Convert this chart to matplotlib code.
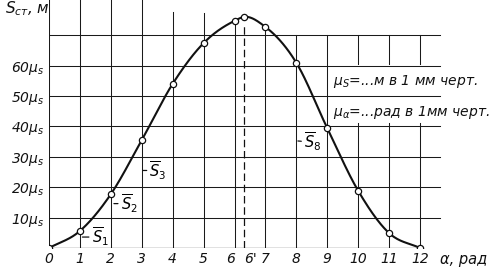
import numpy as np
import matplotlib
matplotlib.use("Agg")
import matplotlib.pyplot as plt

plt.rcParams['font.family'] = ['DejaVu Sans']
plt.rcParams['mathtext.fontset'] = 'dejavusans'

# curve points (alpha in rad, S in mu_s units)
alpha = [0, 1, 2, 3, 4, 5, 6, 6.3, 7, 8, 9, 10, 11, 12]
s_vals = [0, 5.6, 17.7, 35.5, 54.0, 67.4, 74.7, 76.0, 72.7, 60.9, 39.4, 18.8, 4.9, 0]

x_ticks = list(range(13)) + [6.3]
x_ticklabels = [str(i) for i in range(13)] + ["6'"]
y_ticks = [10, 20, 30, 40, 50, 60]
y_ticklabels = [f"{v}$\\mu_s$" for v in y_ticks]
h_grid = [10, 20, 30, 40, 50, 60, 70]
v_grid_top = [81.5, 81.5, 81.5, 81.5, 77.6, 77.3, 75.0, 72.7, 70, 70, 70, 70, 70]

labels = [(r'$\overline{S}_1$', (1.08, 3.6), (1.38, 3.6)),
          (r'$\overline{S}_2$', (2.10, 14.6), (2.32, 14.6)),
          (r'$\overline{S}_3$', (3.03, 25.5), (3.25, 25.5)),
          (r'$\overline{S}_8$', (8.05, 35.2), (8.25, 34.8))]


def smooth(xs, ys, n=30):
    # cubic hermite through the points, just for drawing a smooth curve
    xs = np.asarray(xs, float)
    ys = np.asarray(ys, float)
    h = np.diff(xs)
    d = np.diff(ys) / h
    m = np.zeros_like(xs)
    m[0] = d[0]
    m[-1] = d[-1]
    for i in range(1, len(xs) - 1):
        m[i] = (d[i - 1] * h[i] + d[i] * h[i - 1]) / (h[i - 1] + h[i])
    px, py = [], []
    for i in range(len(xs) - 1):
        t = np.linspace(0, 1, n, endpoint=False)
        h00 = 2 * t**3 - 3 * t**2 + 1
        h10 = t**3 - 2 * t**2 + t
        h01 = -2 * t**3 + 3 * t**2
        h11 = t**3 - t**2
        px.append(xs[i] + t * h[i])
        py.append(h00 * ys[i] + h10 * h[i] * m[i] + h01 * ys[i + 1] + h11 * h[i] * m[i + 1])
    px.append([xs[-1]])
    py.append([ys[-1]])
    return np.concatenate(px), np.concatenate(py)


fig = plt.figure(figsize=(4.97, 2.68), dpi=100)
ax = fig.add_axes([49 / 497, 20 / 268, 14 * 30.92 / 497, 247.8 / 268])
ax.set_xlim(0, 14)
ax.set_ylim(0, 81.5)
for sp in ax.spines.values():
    sp.set_visible(False)

gkw = dict(color='#1a1a1a', lw=0.75, zorder=1)
# grid
for yv in h_grid:
    ax.plot([0, 12.65], [yv, yv], **gkw)
ax.plot([0, 12.1], [0, 0], color='#111111', lw=0.9, zorder=1)
for xv, top in zip(range(13), v_grid_top):
    if xv >= 10:
        ax.plot([xv, xv], [0, 41], **gkw)
        ax.plot([xv, xv], [60.5, top], **gkw)
    else:
        ax.plot([xv, xv], [0, top], **gkw)

# dashed line at 6'
ax.plot([6.3, 6.3], [0, 74], color='#111111', lw=0.9, dashes=(6, 3), zorder=1)

# curve
cx, cy = smooth(alpha, s_vals)
ax.plot(cx, cy, color='#111111', lw=1.5, zorder=2)
ax.plot(alpha, s_vals, 'o', ms=4.5, mfc='white', mec='#111111', mew=0.9, zorder=3)

for txt, xy, xyt in labels:
    ax.annotate(txt, xy=xy, xytext=xyt, fontsize=10.5, ha='left', va='center',
                arrowprops=dict(arrowstyle='-', lw=0.9, color='#111111',
                                shrinkA=0, shrinkB=0), zorder=4)

ax.set_xticks(x_ticks)
ax.set_xticklabels(x_ticklabels, fontsize=10, style='italic', color='#111111')
xt = ax.get_xticklabels()
xt[6].set_horizontalalignment('right')   # "6" and "6'" sit side by side
xt[13].set_horizontalalignment('left')
ax.set_yticks(y_ticks)
ax.set_yticklabels(y_ticklabels, fontsize=10, style='italic', color='#111111')
ax.tick_params(length=0, pad=3)

ax.text(9.2, 54.6, r'$\mu_S$=...м в 1 мм черт.', fontsize=10, style='italic',
        ha='left', va='center', color='#111111')
ax.text(9.2, 44.7, r'$\mu_\alpha$=...рад в 1мм черт.', fontsize=10, style='italic',
        ha='left', va='center', color='#111111')

ax.text(12.65, -3.8, 'α, рад', fontsize=10.5, style='italic', ha='left',
        va='center', color='#111111', clip_on=False)
fig.text(5 / 497, 1 - 9 / 268, r'$S_{ст}$, м', fontsize=11, ha='left',
         va='center', style='italic', color='#111111')

fig.savefig('out.png', dpi=100, facecolor='white')
